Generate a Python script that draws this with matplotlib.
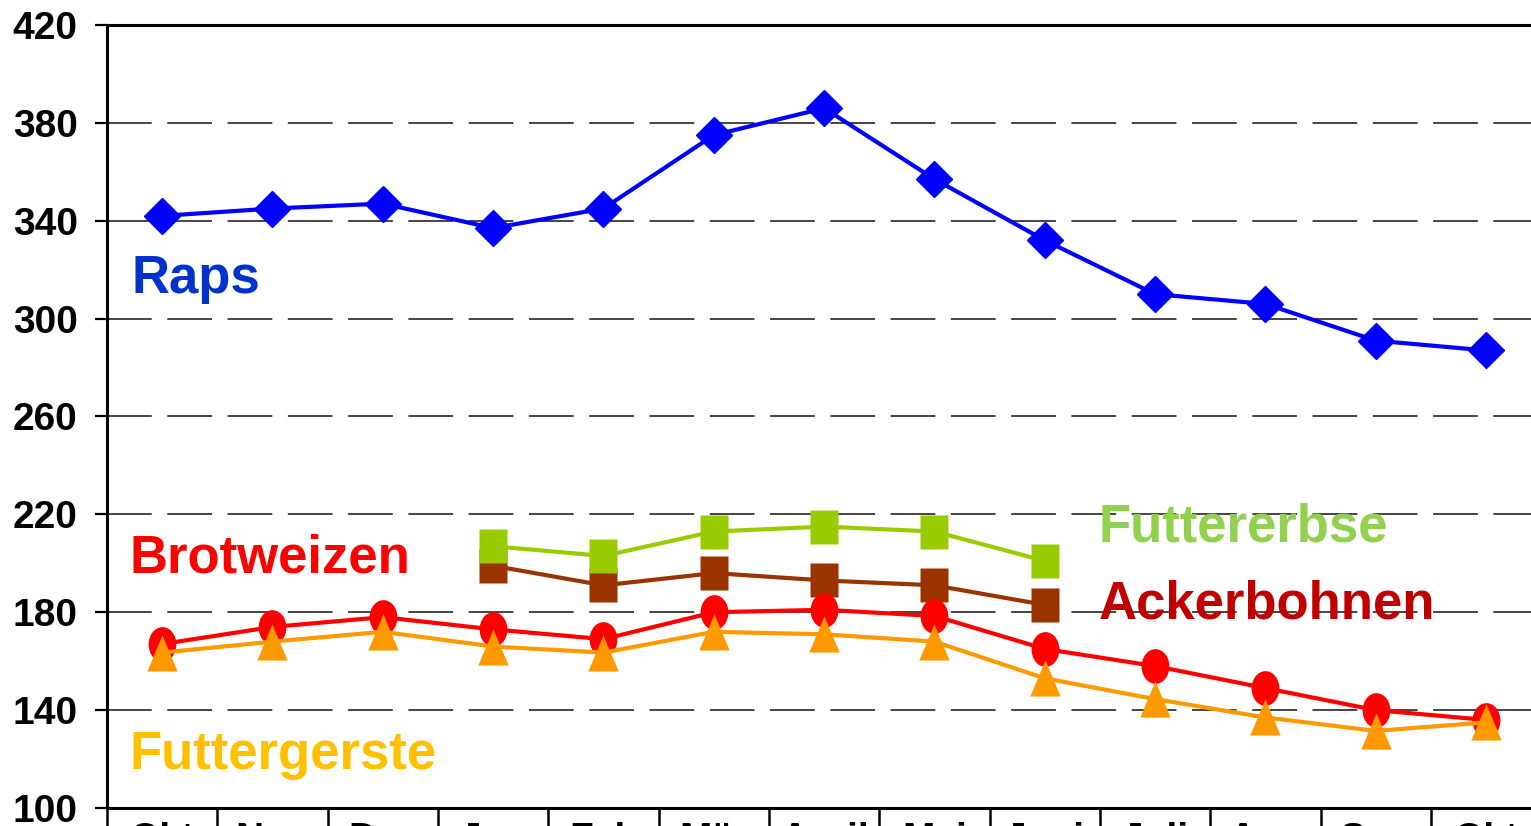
import matplotlib
matplotlib.use("Agg")
import matplotlib.pyplot as plt
from matplotlib.path import Path
from matplotlib.transforms import Affine2D
import numpy as np

months = ["Okt", "Nov", "Dez", "Jan", "Feb", "Mär", "April", "Mai", "Juni", "Juli", "Aug", "Sep", "Okt"]
raps = [342, 345, 347, 337, 345, 375, 386, 357, 332, 310, 306, 291, 287]
brotweizen = [167, 174, 178, 173, 169, 180, 181, 178.5, 165, 158, 149, 140, 136]
futtergerste = [163.5, 168, 172, 166, 163.5, 172, 171, 168, 153, 144.5, 137, 131.5, 135]
futtererbse = [None, None, None, 207, 203, 213, 215, 213, 201, None, None, None, None]
ackerbohnen = [None, None, None, 199, 191, 196, 193, 191, 183, None, None, None, None]
yticks = [100, 140, 180, 220, 260, 300, 340, 380, 420]

plt.rcParams['font.family'] = ['Liberation Sans', 'DejaVu Sans']
plt.rcParams['font.weight'] = 'bold'

fig = plt.figure(figsize=(15.31, 8.26), dpi=100)
W, H = 1531, 826
left_px, right_px, top_px, bot_px = 107, 107 + 13 * 110.33, 25, 808
ax = fig.add_axes([left_px / W, (H - bot_px) / H, (right_px - left_px) / W, (bot_px - top_px) / H])
ax.set_xlim(-0.5, 12.5)
ax.set_ylim(100, 420)

x = np.arange(len(months))

def arr(v):
    return np.array([np.nan if a is None else a for a in v], dtype=float)

# custom markers (slightly taller than wide, as in the reference)
rect = Path([(-0.39, -0.5), (0.39, -0.5), (0.39, 0.5), (-0.39, 0.5), (-0.39, -0.5)],
            [Path.MOVETO, Path.LINETO, Path.LINETO, Path.LINETO, Path.CLOSEPOLY])
ell = Path.unit_circle().transformed(Affine2D().scale(0.8, 1.0))
tri = Path([(0, 0.5), (-0.42, -0.5), (0.42, -0.5), (0, 0.5)],
           [Path.MOVETO, Path.LINETO, Path.LINETO, Path.CLOSEPOLY])

# grid
for yv in yticks[1:-1]:
    ax.axhline(yv, color='#444444', lw=1.4, linestyle=(0, (23, 8)), zorder=1)

lw = 3.0
ax.plot(x, raps, color='#0000FF', lw=lw, marker='D', ms=18.5, mec='#0000FF', mfc='#0000FF', zorder=3)
ax.plot(x, arr(ackerbohnen), color='#993300', lw=lw, marker=rect, ms=25, mec='none', mfc='#993300', zorder=3)
ax.plot(x, arr(futtererbse), color='#99CC00', lw=lw, marker=rect, ms=25, mec='none', mfc='#99CC00', zorder=4)
ax.plot(x, brotweizen, color='#FF0000', lw=lw, marker=ell, ms=25, mec='none', mfc='#FF0000', zorder=5)
ax.plot(x, futtergerste, color='#FF9900', lw=lw, marker=tri, ms=26, mec='none', mfc='#FF9900', zorder=6)

fs = 38
ax.text(-0.28, 310.6, "Raps", color='#0033CC', fontsize=fs, fontweight='bold', ha='left', va='baseline')
ax.text(-0.3, 196.2, "Brotweizen", color='#FF0000', fontsize=fs, fontweight='bold', ha='left', va='baseline')
ax.text(-0.3, 115.8, "Futtergerste", color='#FFC000', fontsize=fs, fontweight='bold', ha='left', va='baseline')
ax.text(8.49, 208.8, "Futtererbse", color='#92D050', fontsize=fs, fontweight='bold', ha='left', va='baseline')
ax.text(8.49, 177.5, "Ackerbohnen", color='#C00000', fontsize=fs, fontweight='bold', ha='left', va='baseline')

# axes styling
for s in ['left', 'top', 'bottom', 'right']:
    ax.spines[s].set_linewidth(2.2)
    ax.spines[s].set_color('black')

ax.set_yticks(yticks)
ax.set_yticklabels([str(v) for v in yticks], fontsize=28, fontweight='bold')
ax.tick_params(axis='y', direction='out', length=9, width=1.6, pad=12)

ax.set_xticks(x)
ax.set_xticklabels(months, fontsize=28, fontweight='bold')
ax.set_xticks(np.arange(-0.5, 13.0, 1.0), minor=True)
ax.tick_params(axis='x', which='major', length=0, pad=10)
ax.tick_params(axis='x', which='minor', direction='out', length=20, width=1.8)

fig.savefig("out.png", dpi=100)
